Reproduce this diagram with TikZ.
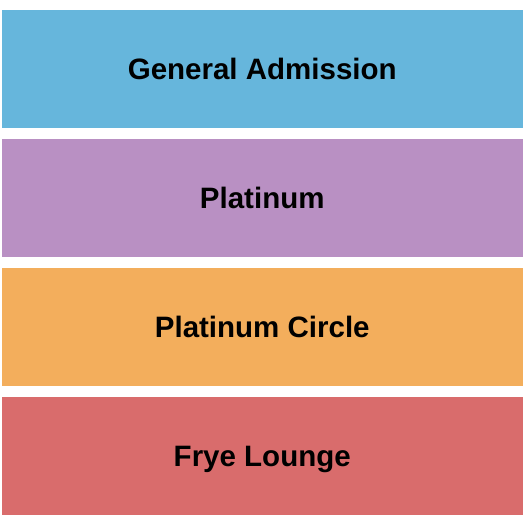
\documentclass[tikz,border=0pt]{standalone}
\usepackage{fontspec}
\setmainfont{Liberation Sans}
\definecolor{gaBlue}{RGB}{102,182,220}
\definecolor{platPurple}{RGB}{185,144,195}
\definecolor{circOrange}{RGB}{243,174,92}
\definecolor{fryeRed}{RGB}{217,108,108}
\tikzset{
  SectionStyle/.style = { rectangle, inner sep = 0pt,
                         minimum width = 520.5pt, minimum height = 118pt,
                         font = \bfseries\fontsize{29.5}{29.5}\selectfont,
                         text height = 20pt, text depth = 0pt } }

\begin{document}
\begin{tikzpicture}[x=1pt,y=-1pt]
  \useasboundingbox (0,0) rectangle (525,525);

  \node[SectionStyle, fill = gaBlue]     (ga)    at (262.25,69)  {General Admission};
  \node[SectionStyle, fill = platPurple] (plat)  at (262.25,198) {Platinum};
  \node[SectionStyle, fill = circOrange] (circ)  at (262.25,327) {Platinum Circle};
  \node[SectionStyle, fill = fryeRed]    (frye)  at (262.25,456) {Frye Lounge};

\end{tikzpicture}
\end{document}
